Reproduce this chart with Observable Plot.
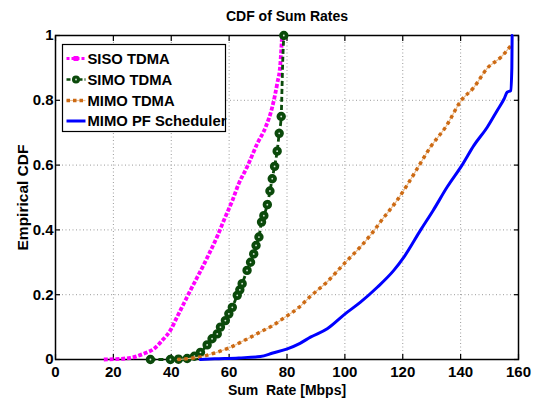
<!DOCTYPE html>
<html><head><meta charset="utf-8">
<script src="https://cdn.jsdelivr.net/npm/d3@7"></script>
<script src="https://cdn.jsdelivr.net/npm/@observablehq/plot@0.6"></script>
<style>
body{margin:0;background:#fff;}
#chart{position:relative;width:535px;height:401px;}
</style></head><body><div id="chart"></div>
<script>
// ---- data ----
const seriesNames = ["SISO TDMA", "SIMO TDMA", "MIMO TDMA", "MIMO PF Scheduler"];
const seriesColors = ["#ff00ff", "#0b4a0b", "#cc6a14", "#0000ff"];

const sisoX = [16.7, 20.1, 25.9, 30.5, 34.0, 36.9, 39.7, 42.0, 44.3, 46.6, 49.0, 51.2, 53.0, 55.9, 58.2, 61.1, 63.3, 66.2, 69.7, 72.6, 74.9, 76.6, 77.7, 78.3];
const sisoY = [0, 0.001, 0.005, 0.018, 0.033, 0.059, 0.09, 0.131, 0.172, 0.213, 0.254, 0.292, 0.325, 0.38, 0.43, 0.49, 0.542, 0.594, 0.666, 0.717, 0.779, 0.851, 0.913, 1.0];

const simoX = [32.8, 39.7, 42.5, 45.5, 48.0, 50.1, 52.4, 54.1, 55.9, 57.0, 58.7, 59.9, 61.1, 62.8, 63.7, 64.5, 66.2, 67.4, 68.5, 69.3, 70.3, 71.2, 72.0, 73.2, 74.1, 74.9, 75.7, 76.6, 77.3, 78.0, 78.2, 78.5, 78.9];
const simoY = [0, 0, 0.001, 0.003, 0.01, 0.022, 0.045, 0.064, 0.079, 0.1, 0.12, 0.141, 0.161, 0.198, 0.215, 0.234, 0.275, 0.3, 0.326, 0.352, 0.378, 0.424, 0.444, 0.478, 0.52, 0.558, 0.596, 0.643, 0.698, 0.75, 0.81, 0.913, 1.0];
const simoMarked = [1,1,1,1,1,1,1,1,1,1,1,1,1,1,1,1,1,1,1,1,1,1,1,1,1,1,1,1,1,1,0,0,1];

const mimoX = [42.1, 46.0, 50.1, 55.0, 60.5, 65.5, 70.8, 75.1, 78.9, 84.0, 88.1, 93.9, 100.1, 105.4, 109.4, 112.3, 118.1, 121.5, 125.0, 129.6, 135.0, 140.0, 144.6, 149.3, 153.8, 157.3];
const mimoY = [0, 0.003, 0.008, 0.02, 0.038, 0.06, 0.085, 0.105, 0.128, 0.16, 0.195, 0.24, 0.299, 0.348, 0.39, 0.425, 0.492, 0.538, 0.589, 0.656, 0.72, 0.797, 0.84, 0.9, 0.932, 0.968];

const pfX = [50.0, 55.0, 63.3, 70.8, 75.1, 80.1, 84.5, 88.1, 93.9, 100.1, 105.4, 111.2, 116.9, 120.4, 126.2, 130.5, 135.4, 140.5, 144.6, 149.2, 152.6, 155.0, 156.1, 157.3, 157.7, 157.8];
const pfY = [0, 0.002, 0.005, 0.009, 0.02, 0.033, 0.05, 0.069, 0.095, 0.141, 0.177, 0.223, 0.275, 0.316, 0.4, 0.46, 0.533, 0.6, 0.661, 0.717, 0.768, 0.804, 0.825, 0.83, 0.9, 1.0];

const xTicks = [0, 20, 40, 60, 80, 100, 120, 140, 160];
const yTicks = [0, 0.2, 0.4, 0.6, 0.8, 1];
const titleText = "CDF of Sum Rates";
const xLabel = "Sum\u00a0 Rate [Mbps]";
const yLabel = "Empirical CDF";

// ---- build rows ----
const rows = (xs, ys) => xs.map((x, i) => ({x, y: ys[i]}));
const siso = rows(sisoX, sisoY);
const simo = rows(simoX, simoY);
const simoDots = simo.filter((d, i) => simoMarked[i]);
const mimo = rows(mimoX, mimoY);
const pf = rows(pfX, pfY);

const font = "'Liberation Sans', Arial, Helvetica, sans-serif";
const noText = () => "";
const butt = {strokeLinecap: "butt", strokeLinejoin: "round", curve: "monotone-x"};

const chart = Plot.plot({
  width: 535, height: 401,
  marginLeft: 55, marginRight: 17, marginTop: 35, marginBottom: 42,
  style: {fontFamily: font, fontWeight: "bold", fontSize: "15px", background: "#fff", color: "#000"},
  x: {domain: [0, 160]},
  y: {domain: [0, 1]},
  marks: [
    Plot.gridX(xTicks.slice(1, -1), {stroke: "#9a9a9a", strokeOpacity: 1, strokeDasharray: "1,2.5", strokeWidth: 1}),
    Plot.gridY(yTicks.slice(1, -1), {stroke: "#9a9a9a", strokeOpacity: 1, strokeDasharray: "1,2.5", strokeWidth: 1}),
    Plot.frame({stroke: "#000", strokeWidth: 1.5}),
    // tick marks, inward on all four sides
    Plot.axisX(xTicks, {anchor: "bottom", tickSize: 5, dy: -5, tickFormat: noText, label: null, stroke: "#000", strokeWidth: 1.2}),
    Plot.axisX(xTicks, {anchor: "top", tickSize: 5, dy: 5, tickFormat: noText, label: null, stroke: "#000", strokeWidth: 1.2}),
    Plot.axisY(yTicks, {anchor: "left", tickSize: 5, dx: 5, tickFormat: noText, label: null, stroke: "#000", strokeWidth: 1.2}),
    Plot.axisY(yTicks, {anchor: "right", tickSize: 5, dx: -5, tickFormat: noText, label: null, stroke: "#000", strokeWidth: 1.2}),
    // tick labels
    Plot.axisX(xTicks, {anchor: "bottom", tickSize: 0, tickPadding: 7, tickFormat: d => String(d), label: null}),
    Plot.axisY(yTicks, {anchor: "left", tickSize: 0, tickPadding: 2, tickFormat: d => String(d), label: null}),
    // series
    Plot.line(siso, {x: "x", y: "y", stroke: seriesColors[0], strokeWidth: 3.8, strokeDasharray: "4,1.8", ...butt}),
    Plot.line(simo, {x: "x", y: "y", stroke: seriesColors[1], strokeWidth: 2.8, strokeDasharray: "5,3", ...butt}),
    Plot.dot(simoDots, {x: "x", y: "y", r: 3.6, stroke: seriesColors[1], strokeWidth: 2.2, fill: "#0b4a0b"}),
    Plot.dot(simoDots, {x: "x", y: "y", r: 0.9, fill: "#d8e8d8"}),
    Plot.line(mimo, {x: "x", y: "y", stroke: "#ebbd90", strokeWidth: 1.2, curve: "monotone-x"}),
    Plot.line(mimo, {x: "x", y: "y", stroke: seriesColors[2], strokeWidth: 3.5, strokeDasharray: "3.5,3.5", ...butt}),
    Plot.line(pf, {x: "x", y: "y", stroke: seriesColors[3], strokeWidth: 3, curve: "monotone-x"}),
    // texts
    Plot.text([titleText], {frameAnchor: "top", lineAnchor: "middle", textAnchor: "middle", dy: -18.5, fontSize: 14, fontWeight: "bold"}),
    Plot.text([xLabel], {frameAnchor: "bottom", lineAnchor: "middle", textAnchor: "middle", dy: 31, fontSize: 14, fontWeight: "bold"}),
    Plot.text([yLabel], {frameAnchor: "left", lineAnchor: "middle", textAnchor: "middle", dx: -32.5, rotate: -90, fontSize: 15.5, fontWeight: "bold"})
  ]
});
document.getElementById("chart").appendChild(chart);

// ---- legend (inside the axes, top-left) ----
const svg = d3.select(chart);
const lg = svg.append("g").attr("font-family", font).attr("font-weight", "bold").attr("font-size", 14.8).attr("text-anchor", "start");
lg.append("rect").attr("x", 62.5).attr("y", 44.5).attr("width", 163).attr("height", 87)
  .attr("fill", "#fff").attr("stroke", "#000").attr("stroke-width", 1.2);
const rowY = [58.5, 79.5, 100.5, 121];
const sx1 = 66.5, sx2 = 85.5, sxm = (sx1 + sx2) / 2;
seriesNames.forEach((name, i) => {
  const y = rowY[i];
  const c = seriesColors[i];
  if (i === 0) {
    lg.append("line").attr("x1", sx1).attr("x2", sx2).attr("y1", y).attr("y2", y)
      .attr("stroke", c).attr("stroke-width", 3).attr("stroke-dasharray", "3,2");
    lg.append("rect").attr("x", sxm - 2.5).attr("y", y - 2.5).attr("width", 5).attr("height", 5).attr("fill", c);
  } else if (i === 1) {
    lg.append("line").attr("x1", sx1).attr("x2", sx2).attr("y1", y).attr("y2", y)
      .attr("stroke", c).attr("stroke-width", 2.5).attr("stroke-dasharray", "4,2");
    lg.append("circle").attr("cx", sxm).attr("cy", y).attr("r", 3)
      .attr("stroke", c).attr("stroke-width", 2).attr("fill", c);
    lg.append("circle").attr("cx", sxm).attr("cy", y).attr("r", 0.9).attr("fill", "#d8e8d8");
  } else if (i === 2) {
    lg.append("line").attr("x1", sx1).attr("x2", sx2).attr("y1", y).attr("y2", y)
      .attr("stroke", "#ebbd90").attr("stroke-width", 1.2);
    lg.append("line").attr("x1", sx1).attr("x2", sx2).attr("y1", y).attr("y2", y)
      .attr("stroke", c).attr("stroke-width", 3.5).attr("stroke-dasharray", "3.5,3");
  } else {
    lg.append("line").attr("x1", sx1).attr("x2", sx2).attr("y1", y).attr("y2", y)
      .attr("stroke", c).attr("stroke-width", 3);
  }
  lg.append("text").attr("x", 87.5).attr("y", y).attr("dy", "0.36em").attr("fill", "#000").text(name);
});
</script>
</body></html>
